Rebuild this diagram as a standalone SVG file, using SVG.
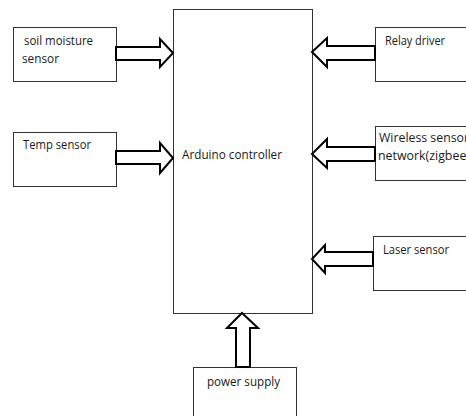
<svg xmlns="http://www.w3.org/2000/svg" width="466" height="416" viewBox="0 0 466 416">
<style>
.box{fill:#fff;stroke:#333;stroke-width:1}
.arr{fill:#fff;stroke:#000;stroke-width:2;stroke-linejoin:miter}
text{font-family:"Open Sans","Liberation Sans",sans-serif;font-size:12.5px;fill:#1a1a1a;lengthAdjust:spacingAndGlyphs}
</style>
<rect width="466" height="416" fill="#fff"/>
<g id="controller"><rect class="box" x="173.5" y="9.5" width="139" height="304"/><text x="182" y="159" textLength="100" lengthAdjust="spacingAndGlyphs">Arduino controller</text></g>
<g id="soil"><rect class="box" x="13.5" y="27.5" width="103" height="54"/><text x="24" y="45" textLength="69" lengthAdjust="spacingAndGlyphs">soil moisture</text><text x="22" y="63" textLength="37" lengthAdjust="spacingAndGlyphs">sensor</text></g>
<g id="temp"><rect class="box" x="13.5" y="132.5" width="103" height="54"/><text x="23" y="149" textLength="68" lengthAdjust="spacingAndGlyphs">Temp sensor</text></g>
<g id="relay"><rect class="box" x="375.5" y="27.5" width="92" height="54"/><text x="385" y="45" textLength="60" lengthAdjust="spacingAndGlyphs">Relay driver</text></g>
<g id="wireless"><rect class="box" x="375.5" y="126.5" width="92" height="54"/><text x="379" y="142" textLength="90" lengthAdjust="spacingAndGlyphs">Wireless sensor</text><text x="378" y="160" textLength="92" lengthAdjust="spacingAndGlyphs">network(zigbee)</text></g>
<g id="laser"><rect class="box" x="373.5" y="236.5" width="94" height="54"/><text x="383" y="254" textLength="66" lengthAdjust="spacingAndGlyphs">Laser sensor</text></g>
<g id="power"><rect class="box" x="193.5" y="367.5" width="103" height="52"/><text x="207" y="386" textLength="73" lengthAdjust="spacingAndGlyphs">power supply</text></g>
<g id="connectors">
<polygon class="arr" points="116,47 160,47 160,39 173,53 160,67 160,60 116,60"/>
<polygon class="arr" points="116,151 160,151 160,143 173,158 160,173 160,164 116,164"/>
<polygon class="arr" points="375,46 327,46 327,38 312,52 327,67 327,60 375,60"/>
<polygon class="arr" points="375,147 327,147 327,139 312,154 327,168 327,161 375,161"/>
<polygon class="arr" points="373,252 325,252 325,245 312,259 325,273 325,266 373,266"/>
<polygon class="arr" points="236,367 236,328 227,328 242,313 258,328 250,328 250,367"/>
</g>
</svg>
